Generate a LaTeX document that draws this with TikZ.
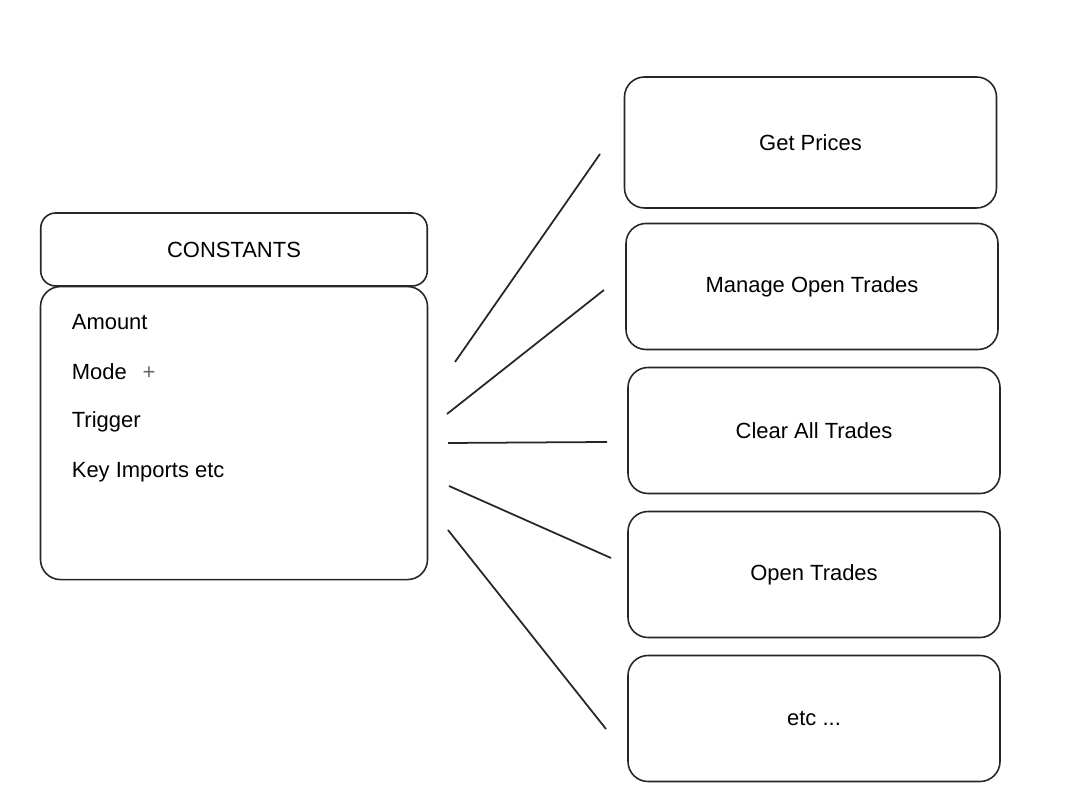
\documentclass[tikz,border=0pt]{standalone}
\usepackage{fontspec}
\setmainfont{Liberation Sans}
\usetikzlibrary{positioning}
\begin{document}
\begin{tikzpicture}[node distance=2.88cm, line width=0.9pt, draw=black!85,
  block/.style={draw=black!85, rounded corners=0.4cm, minimum width=7.44cm, minimum height=2.52cm, font=\fontsize{12.5}{15}\selectfont},
  item/.style={anchor=west, font=\fontsize{12.5}{15}\selectfont}]

  \useasboundingbox (0,0) rectangle (21.5,16.02);

  % Constants box
  \node[block, minimum width=7.73cm, minimum height=1.46cm, rounded corners=0.3cm] (Head) at (4.68,11.03) {CONSTANTS};
  \node[block, minimum width=7.74cm, minimum height=5.86cm, below=-0.02cm of Head] (Body) {};

  % Constants list
  \node[item] (K1) at ([xshift=0.51cm, yshift=-0.72cm]Body.north west) {Amount};
  \node[item] (K2) at ([yshift=-1cm]K1.west) {Mode\hspace{9pt}{\color{black!60}+}};
  \node[item] (K3) at ([yshift=-1cm]K2.west) {Trigger};
  \node[item] (K4) at ([yshift=-1cm]K3.west) {Key Imports etc};

  % Right column
  \node[block, minimum height=2.62cm] (P1) at (16.21,13.17) {Get Prices};
  \node[block, below of=P1, xshift=0.03cm] (P2) {Manage Open Trades};
  \node[block, below of=P2, xshift=0.04cm] (P3) {Clear All Trades};
  \node[block, below of=P3] (P4) {Open Trades};
  \node[block, below of=P4] (P5) {etc ...};

  % Line ends
  \coordinate (S1) at (9.10,8.78);  \coordinate (E1) at (12.00,12.94);
  \coordinate (S2) at (8.94,7.74);  \coordinate (E2) at (12.08,10.22);
  \coordinate (S3) at (8.96,7.16);  \coordinate (E3) at (12.14,7.18);
  \coordinate (S4) at (8.98,6.30);  \coordinate (E4) at (12.22,4.86);
  \coordinate (S5) at (8.96,5.42);  \coordinate (E5) at (12.12,1.44);

  % Lines
  \draw[line width=1pt, black!85] (S1) -- (E1);
  \draw[line width=1pt, black!85] (S2) -- (E2);
  \draw[line width=1pt, black!85] (S3) -- (E3);
  \draw[line width=1pt, black!85] (S4) -- (E4);
  \draw[line width=1pt, black!85] (S5) -- (E5);

\end{tikzpicture}
\end{document}
